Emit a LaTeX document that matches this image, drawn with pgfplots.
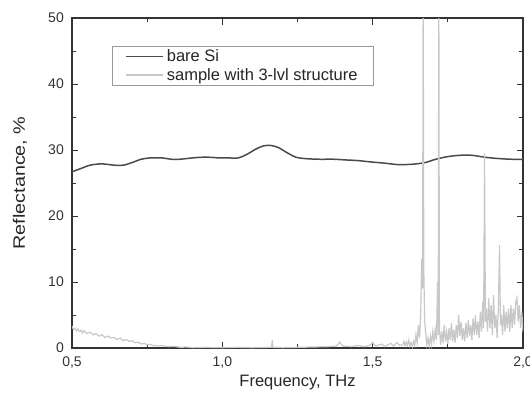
\documentclass[border=0pt]{standalone}
\usepackage{pgfplots}
\pgfplotsset{compat=1.18}
\usepackage{fontspec}
\setmainfont{Liberation Sans}
\definecolor{siline}{HTML}{4A4A4A}
\definecolor{samp}{HTML}{C8C8C8}
\definecolor{axc}{HTML}{333333}
\begin{document}
\begin{tikzpicture}
\useasboundingbox (-72pt,-49pt) rectangle (458pt,348pt);
\begin{axis}[
  scale only axis, width=451pt, height=330pt,
  at={(0,0)}, anchor=south west,
  xmin=0.5, xmax=2.0, ymin=0, ymax=50,
  xtick={0.5,1,1.5,2}, xticklabels={{0,5},{1,0},{1,5},{2,0}},
  minor xtick={0.75,1.25,1.75},
  ytick={0,10,20,30,40,50}, yticklabels={0,10,20,30,40,50},
  minor ytick={5,15,25,35,45},
  tick align=inside, major tick length=6.5pt, minor tick length=4pt,
  every tick/.style={axc, line width=1pt},
  axis line style={axc, line width=1.3pt},
  tick label style={font=\fontsize{14pt}{16pt}\selectfont, text=black!80, inner sep=0pt},
  xticklabel style={anchor=center, yshift=-15pt},
  yticklabel style={anchor=east, xshift=-8pt},
  xlabel={Frequency, THz}, ylabel={\scalebox{1.2}[1]{Reflectance, \%}},
  label style={font=\fontsize{16.5pt}{19pt}\selectfont, text=black!85},
  xlabel style={at={(axis description cs:0.5,-0.106)}, anchor=center},
  ylabel style={at={(axis description cs:-0.1153,0.5)}, anchor=center},
  legend style={at={(0.0887,0.915)}, anchor=north west, draw=black!40, line width=0.7pt,
    font=\fontsize{16.5pt}{19pt}\selectfont, text=black!85, inner xsep=13pt, inner ysep=1.5pt,
    row sep=1pt, nodes={inner xsep=3pt, inner ysep=2pt}},
  legend cell align=left,
  legend image code/.code={\draw[#1] (0pt,0pt) -- (37pt,0pt);},
]
\addplot[siline, line width=1.5pt, smooth, tension=0.5] coordinates {
(0.500,26.7) (0.530,27.2) (0.560,27.7) (0.599,27.9) (0.640,27.7) (0.671,27.7) (0.700,28.1)
(0.730,28.6) (0.760,28.8) (0.800,28.8) (0.830,28.6) (0.859,28.6) (0.900,28.8) (0.930,28.9)
(0.959,28.9) (0.990,28.8) (1.020,28.8) (1.053,28.8) (1.080,29.3) (1.110,30.1) (1.135,30.6)
(1.159,30.7) (1.185,30.4) (1.215,29.6) (1.245,28.9) (1.275,28.7) (1.320,28.6) (1.370,28.6)
(1.408,28.5) (1.450,28.4) (1.492,28.2) (1.541,28.0) (1.580,27.8) (1.614,27.8) (1.645,27.9)
(1.675,28.1) (1.710,28.6) (1.750,29.0) (1.791,29.2) (1.830,29.2) (1.874,28.9) (1.920,28.7)
(1.960,28.6) (2.000,28.6)
};
\addlegendentry{bare Si}
\addplot[samp, line width=1.2pt] coordinates {
(0.500,3.3) (0.505,2.8) (0.510,3.0) (0.515,2.6) (0.520,2.9) (0.525,2.5) (0.530,2.7) (0.535,2.3)
(0.540,2.6) (0.550,2.2) (0.560,2.4) (0.570,2.0) (0.580,2.2) (0.590,1.8) (0.600,2.0) (0.610,1.6)
(0.620,1.8) (0.630,1.5) (0.640,1.6) (0.650,1.3) (0.660,1.5) (0.670,1.1) (0.680,1.3) (0.690,1.0)
(0.700,1.1) (0.710,0.8) (0.720,0.9) (0.730,0.6) (0.740,0.7) (0.750,0.5) (0.760,0.55) (0.770,0.35)
(0.780,0.4) (0.790,0.3) (0.800,0.35) (0.820,0.2) (0.840,0.25) (0.860,0.1) (0.880,0.15) (0.900,0.05)
(0.950,0.1) (1.000,0.05) (1.050,0.1) (1.100,0.05) (1.160,0.1) (1.164,0.1) (1.166,1.2) (1.168,0.1)
(1.200,0.05) (1.250,0.1) (1.300,0.15) (1.350,0.2) (1.380,0.3) (1.390,0.9) (1.400,0.3) (1.430,0.2)
(1.450,0.4) (1.470,0.2) (1.490,0.4) (1.500,0.8) (1.510,0.3) (1.530,0.6) (1.540,0.2) (1.560,0.7)
(1.570,0.3) (1.580,0.8) (1.590,0.4)
(1.600,0.5) (1.604,1.0) (1.608,0.3) (1.612,0.9) (1.616,0.4) (1.620,1.2) (1.624,0.3) (1.628,0.8)
(1.632,0.2) (1.636,1.0) (1.640,0.4) (1.644,2.0) (1.648,0.8) (1.652,3.5) (1.656,1.5) (1.660,5.5)
(1.663,13.5) (1.666,9) (1.668,55) (1.670,12) (1.673,4) (1.676,2.5) (1.680,0.5) (1.684,1.5)
(1.688,0.3) (1.692,1.8) (1.696,0.6) (1.700,2.5) (1.704,1.0) (1.708,2.8) (1.712,1.2) (1.716,10)
(1.718,2) (1.720,55) (1.722,3) (1.726,0.5) (1.730,2.5) (1.734,0.8) (1.738,3.5) (1.742,1.0)
(1.746,2.5) (1.750,0.6) (1.754,3.0) (1.758,1.2) (1.762,3.8) (1.766,1.0) (1.770,2.8) (1.774,0.8)
(1.778,3.5) (1.782,1.5) (1.786,5.0) (1.790,1.8) (1.794,4.0) (1.798,1.2) (1.802,3.0) (1.806,1.0)
(1.810,3.8) (1.814,1.5) (1.818,4.2) (1.822,1.8) (1.826,3.5) (1.830,1.2) (1.834,4.5) (1.838,2.0)
(1.842,5.0) (1.846,2.0) (1.850,4.0) (1.854,1.5) (1.858,5.5) (1.862,2.5) (1.866,7.0) (1.869,3)
(1.872,29.5) (1.875,4) (1.878,6.0) (1.882,2.5) (1.886,7.5) (1.890,3.0) (1.894,6.5) (1.898,2.0)
(1.902,8.0) (1.906,3.0) (1.910,5.0) (1.914,1.5) (1.918,6.0) (1.922,15.6) (1.925,3.5) (1.928,5.0)
(1.932,2.0) (1.936,6.5) (1.940,2.5) (1.944,5.5) (1.948,3.0) (1.952,6.0) (1.956,2.5) (1.960,6.5)
(1.964,3.0) (1.968,6.0) (1.972,3.5) (1.976,7.0) (1.980,7.6) (1.984,4.0) (1.988,6.5) (1.992,3.0)
(1.996,5.5) (2.000,2.5)
};
\addlegendentry{sample with 3-lvl structure}
\end{axis}
\end{tikzpicture}
\end{document}
